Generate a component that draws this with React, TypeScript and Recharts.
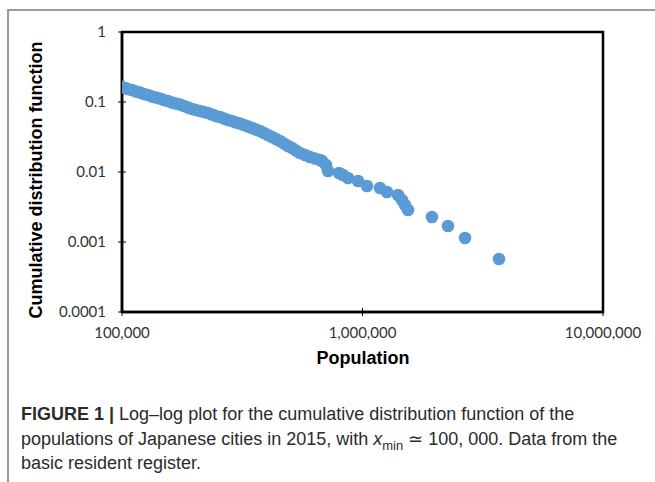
import React from "react";
import { ReferenceArea, Scatter, ScatterChart, XAxis, YAxis } from "recharts";

// city population (x) and cumulative distribution value (y)
const cityPopulation = [
  100000, 102900, 105900, 110050, 114350, 118800, 123450, 128250, 133250, 138500,
  143900, 149500, 155350, 161400, 167700, 174250, 181050, 188100, 195500, 203100,
  211000, 219300, 227800, 236700, 246000, 255600, 265500, 275900, 286700, 297900,
  309500, 321600, 334100, 347200, 360700, 374800, 389500, 404700, 420500, 436900,
  453900, 471600, 490000, 509200, 529000, 549700, 576700, 604900, 634600, 665800,
  678600, 705100, 718700, 798700, 829800, 870500, 957900, 1044000, 1182000, 1264000,
  1405000, 1459000, 1502000, 1546000, 1945000, 2267000, 2669000, 3694000
];

const cumulativeShare = [
  0.1638, 0.1585, 0.1534, 0.1484, 0.1413, 0.1367, 0.1301, 0.1259, 0.1199, 0.116,
  0.1122, 0.1068, 0.1033, 0.0984, 0.0952, 0.0921, 0.0877, 0.0834, 0.0794, 0.0769,
  0.0744, 0.072, 0.0697, 0.0663, 0.0631, 0.0611, 0.0581, 0.0553, 0.0535, 0.0509,
  0.0493, 0.0469, 0.0447, 0.0425, 0.0405, 0.0385, 0.0361, 0.0338, 0.0316, 0.0296,
  0.0277, 0.0255, 0.0235, 0.022, 0.0203, 0.0187, 0.0175, 0.0164, 0.0156, 0.0148,
  0.01436, 0.01259, 0.01033, 0.00968, 0.00906, 0.00821, 0.00744, 0.00631, 0.00591, 0.00518,
  0.00469, 0.00398, 0.00338, 0.00286, 0.00228, 0.00169, 0.00114, 0.000572
];

const xTicks = [100000, 1000000, 10000000];
const yTicks = [0.0001, 0.001, 0.01, 0.1, 1];

const captionLines = [
  "populations of Japanese cities in 2015, with",
  "basic resident register."
];

const points = cityPopulation.map((population, i) => ({
  population,
  cdf: cumulativeShare[i]
}));

const tickFont = { fontFamily: "Lato, 'Liberation Sans', sans-serif", fontSize: 15, fill: "#333" };

function YTick(props: any) {
  const { x, y, payload } = props;
  return (
    <g>
      <line x1={x - 4} x2={x + 4} y1={y} y2={y} stroke="#000" strokeWidth={1} />
      <text x={x - 16} y={y} dy={5} textAnchor="end" {...tickFont}>
        {String(payload.value)}
      </text>
    </g>
  );
}

function XTick(props: any) {
  const { x, y, payload } = props;
  return (
    <g>
      <line x1={x} x2={x} y1={y - 4} y2={y + 4} stroke="#000" strokeWidth={1} />
      <text x={x} y={y} dy={26} textAnchor="middle" {...tickFont}>
        {payload.value.toLocaleString("en-US")}
      </text>
    </g>
  );
}

function Dot(props: any) {
  return <circle cx={props.cx} cy={props.cy} r={6.3} fill="#5b9bd5" />;
}

export default function App() {
  return (
    <div
      style={{
        position: "absolute",
        left: 0,
        top: 0,
        width: 655,
        height: 482,
        background: "#fff",
        overflow: "hidden"
      }}
    >
      <div
        style={{
          position: "absolute",
          left: 7,
          top: 9,
          width: 660,
          height: 480,
          borderTop: "2px solid #9a9a9a",
          borderLeft: "2px solid #9a9a9a"
        }}
      />
      <div style={{ position: "absolute", left: 0, top: 0 }}>
        <ScatterChart
          width={655}
          height={390}
          margin={{ top: 32, right: 52, bottom: 38, left: 62 }}
        >
          <XAxis
            dataKey="population"
            type="number"
            scale="log"
            domain={[100000, 10000000]}
            ticks={xTicks}
            height={40}
            tickSize={0}
            tickMargin={0}
            tick={(p: any) => <XTick {...p} />}
            tickLine={false}
            interval={0}
            axisLine={{ stroke: "#000", strokeWidth: 2.5 }}
            allowDataOverflow
          />
          <YAxis
            dataKey="cdf"
            type="number"
            scale="log"
            domain={[0.0001, 1]}
            ticks={yTicks}
            width={60}
            tickSize={0}
            tickMargin={0}
            tick={(p: any) => <YTick {...p} />}
            tickLine={false}
            interval={0}
            axisLine={{ stroke: "#000", strokeWidth: 2.5 }}
            allowDataOverflow
          />
          <ReferenceArea
            x1={100000}
            x2={10000000}
            y1={0.0001}
            y2={1}
            fill="none"
            fillOpacity={0}
            stroke="#000"
            strokeWidth={2.5}
          />
          <Scatter data={points} shape={<Dot />} isAnimationActive={false} />
        </ScatterChart>
      </div>
      <div
        style={{
          position: "absolute",
          left: 363,
          top: 358,
          transform: "translate(-50%, -50%)",
          fontFamily: "'Liberation Sans', Arial, sans-serif",
          fontWeight: "bold",
          fontSize: 18,
          color: "#000",
          whiteSpace: "nowrap"
        }}
      >
        Population
      </div>
      <div
        style={{
          position: "absolute",
          left: 36,
          top: 180,
          transform: "translate(-50%, -50%) rotate(-90deg)",
          fontFamily: "'Liberation Sans', Arial, sans-serif",
          fontWeight: "bold",
          fontSize: 18,
          color: "#000",
          whiteSpace: "nowrap"
        }}
      >
        Cumulative distribution function
      </div>
      <div
        style={{
          position: "absolute",
          left: 21,
          top: 402,
          fontFamily: "'Liberation Sans', Arial, sans-serif",
          fontSize: 18,
          lineHeight: "24.5px",
          color: "#2b2b2b",
          whiteSpace: "nowrap"
        }}
      >
        <div>
          <b>FIGURE 1 |</b> Log–log plot for the cumulative distribution function of the
        </div>
        <div>
          {captionLines[0]} <i>x</i>
          <sub style={{ fontSize: 13, lineHeight: 0 }}>min</sub> ≃ 100, 000. Data from the
        </div>
        <div>{captionLines[1]}</div>
      </div>
    </div>
  );
}
